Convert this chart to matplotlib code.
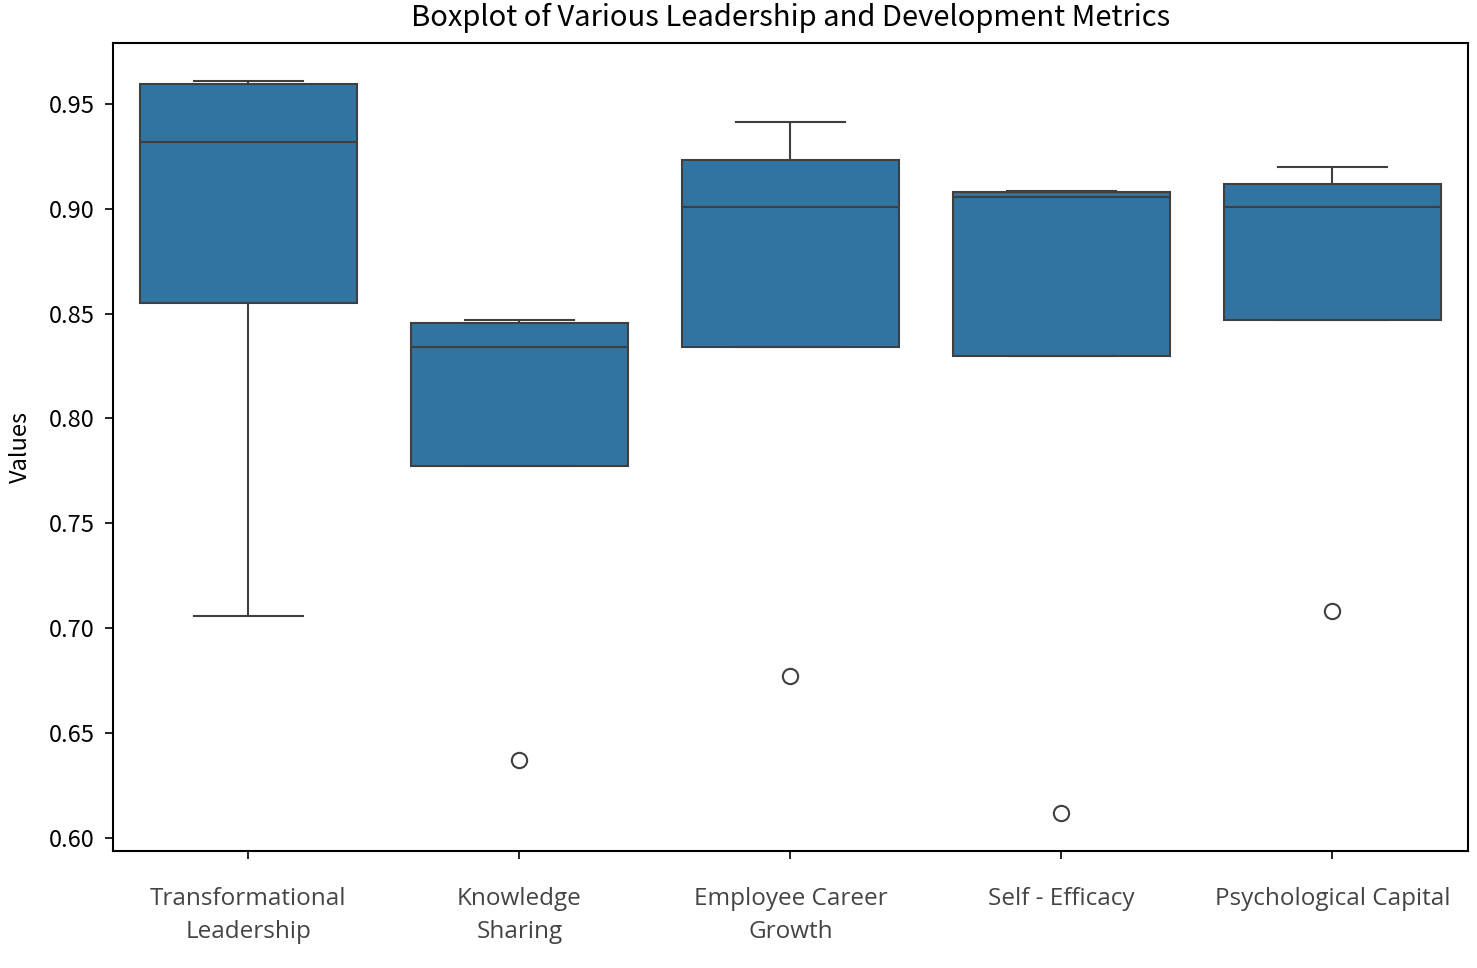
import numpy as np
import pandas as pd
import seaborn as sns
import matplotlib.pyplot as plt

plt.rcParams['font.family'] = ['Noto Sans CJK SC', 'DejaVu Sans']

# category names, tick labels and the five readings per metric
categories = ['Transformational Leadership', 'Knowledge Sharing',
              'Employee Career Growth', 'Self - Efficacy', 'Psychological Capital']
tick_labels = ['Transformational\nLeadership', 'Knowledge\nSharing',
               'Employee Career\nGrowth', 'Self - Efficacy', 'Psychological Capital']

transformational = [0.706, 0.855, 0.932, 0.9595, 0.961]
knowledge = [0.637, 0.7774, 0.834, 0.8456, 0.847]
career = [0.677, 0.834, 0.901, 0.923, 0.9414]
efficacy = [0.612, 0.830, 0.9057, 0.908, 0.9085]
psych = [0.708, 0.847, 0.901, 0.912, 0.920]

series = [transformational, knowledge, career, efficacy, psych]
rows = []
for name, vals in zip(categories, series):
    for v in vals:
        rows.append((name, v))
df = pd.DataFrame(rows, columns=['Metric', 'Value'])

fig = plt.figure(figsize=(14.77, 9.68), dpi=100)
ax = fig.add_axes([0.0765, 0.1209, 0.9174, 0.8347])

sns.boxplot(data=df, x='Metric', y='Value', order=categories, ax=ax,
            color='#3274a1', saturation=1, width=0.8, linecolor='#3f3f3f',
            linewidth=1.5,
            flierprops=dict(marker='o', markersize=11, markerfacecolor='white',
                            markeredgecolor='#3f3f3f', markeredgewidth=1.5))

ax.set_xlim(-0.5, 4.5)
ax.set_ylim(0.5938, 0.979)
ax.set_yticks([0.60, 0.65, 0.70, 0.75, 0.80, 0.85, 0.90, 0.95])
ax.set_yticklabels(['0.60', '0.65', '0.70', '0.75', '0.80', '0.85', '0.90', '0.95'])
ax.set_xticks(range(len(categories)))
ax.set_xticklabels(tick_labels, family=['Open Sans', 'DejaVu Sans'],
                   color='#444444', fontsize=17.5, linespacing=1.5)
ax.tick_params(axis='x', pad=20, length=6, width=1.2)
ax.tick_params(axis='y', labelsize=17, length=6, width=1.2, pad=7)
for s in ax.spines.values():
    s.set_linewidth(1.5)
ax.set_xlabel('')
ax.set_ylabel('Values', fontsize=17, labelpad=12)
ax.set_title('Boxplot of Various Leadership and Development Metrics', fontsize=21, pad=12)

fig.savefig('out.png', dpi=100)
